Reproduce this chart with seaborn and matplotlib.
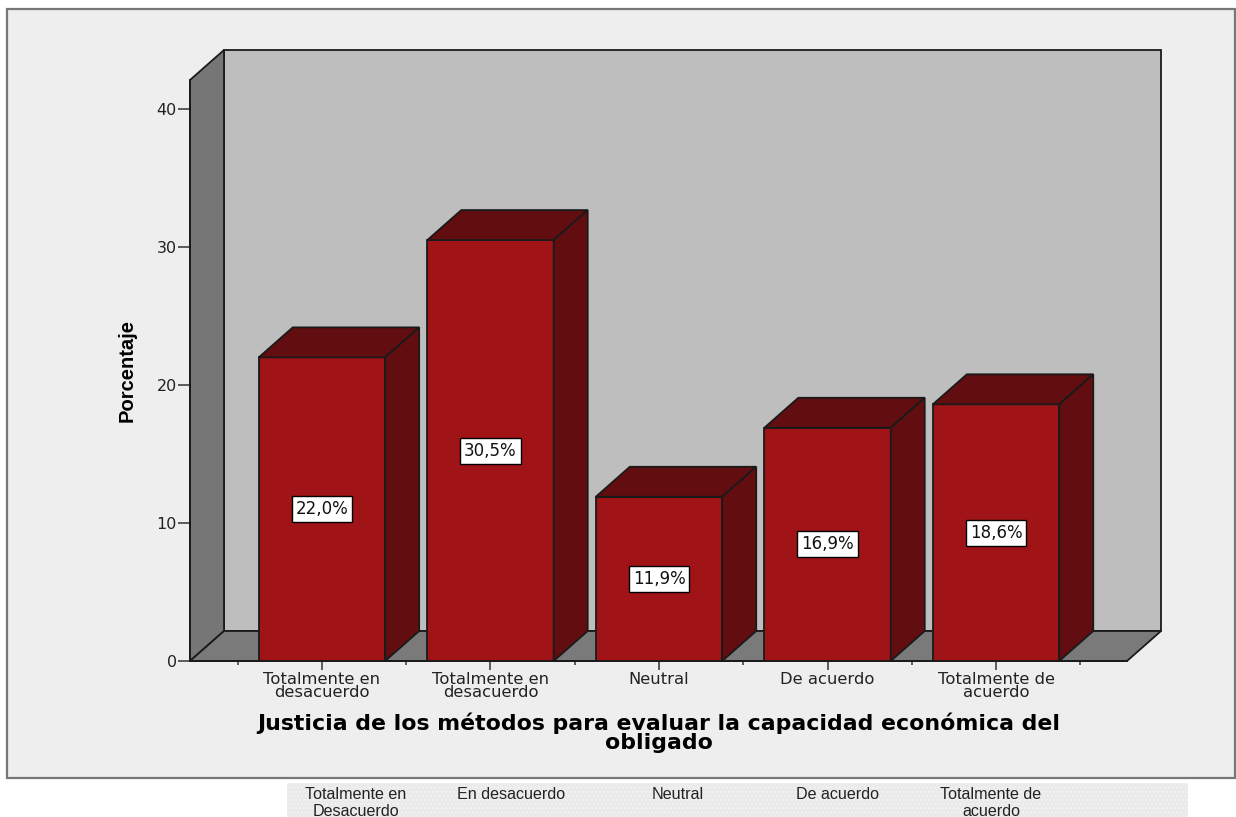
import matplotlib
matplotlib.use("Agg")
import matplotlib.pyplot as plt
from matplotlib.patches import Polygon, Rectangle
import pandas as pd
import seaborn as sns

# chart values
labels = ["Totalmente en\ndesacuerdo", "Totalmente en\ndesacuerdo", "Neutral", "De acuerdo", "Totalmente de\nacuerdo"]
values = [22.0, 30.5, 11.9, 16.9, 18.6]
y_ticks = [0, 10, 20, 30, 40]
strip_labels = ["Totalmente en\nDesacuerdo", "En desacuerdo", "Neutral", "De acuerdo", "Totalmente de\nacuerdo"]
strip_x = [356, 511, 678, 838, 991]

W, H = 1236, 817
sns.set_style("white")
plt.rcParams["font.family"] = ["DejaVu Sans"]

fig = plt.figure(figsize=[W / 100, H / 100], dpi=100, facecolor="white")

# grey panel and the strip below it
fig.add_artist(Rectangle((7 / W, 1 - 778 / H), 1228 / W, 769 / H, transform=fig.transFigure,
                         fc="#eeeeee", ec="#777777", lw=1.6, zorder=-2))
fig.add_artist(Rectangle((287 / W, 0), 901 / W, 34 / H, transform=fig.transFigure,
                         fc="#eaeaea", ec="#f3f3f3", hatch="....", lw=0, zorder=-2))
for x, t in zip(strip_x, strip_labels):
    fig.text(x / W, 1 - 787 / H, t, ha="center", va="top", fontsize=11.6, color="#222222",
             family="Liberation Sans", linespacing=1.2)

ax = fig.add_axes([190 / W, 1 - 661 / H, 937 / W, 581 / H])
ax.patch.set_alpha(0)
x0, x1 = -0.783, 4.777
y1 = 42.1
ax.set_xlim(x0, x1)
ax.set_ylim(0, y1)

# depth of the fake 3d box, in data units
dx = 34 / 168.5
dy = 30 / 13.8

edge = "#1a1a1a"
ax.add_patch(Polygon([(x0 + dx, dy), (x1 + dx, dy), (x1 + dx, y1 + dy), (x0 + dx, y1 + dy)],
                     fc="#bebebe", ec=edge, lw=1.3, clip_on=False, zorder=1))
ax.add_patch(Polygon([(x0, 0), (x0 + dx, dy), (x0 + dx, y1 + dy), (x0, y1)],
                     fc="#767676", ec=edge, lw=1.3, clip_on=False, zorder=1))
ax.add_patch(Polygon([(x0, 0), (x1, 0), (x1 + dx, dy), (x0 + dx, dy)],
                     fc="#7a7a7a", ec=edge, lw=1.3, clip_on=False, zorder=1))

df = pd.DataFrame({"pos": range(len(values)), "pct": values})
sns.barplot(data=df, x="pos", y="pct", color="#a01417", saturation=1, width=0.75,
            edgecolor=edge, linewidth=1.3, zorder=3, ax=ax)
ax.set_xlim(x0, x1)
ax.set_ylim(0, y1)

bars = [p for p in ax.patches if p.get_zorder() == 3]
for bar, v in zip(bars, values):
    l, w = bar.get_x(), bar.get_width()
    r = l + w
    ax.add_patch(Polygon([(l, v), (r, v), (r + dx, v + dy), (l + dx, v + dy)],
                         fc="#620d10", ec=edge, lw=1.3, clip_on=False, zorder=3))
    ax.add_patch(Polygon([(r, 0), (r + dx, dy), (r + dx, v + dy), (r, v)],
                         fc="#620d10", ec=edge, lw=1.3, clip_on=False, zorder=3))
    ax.text(l + w / 2, v / 2, f"{v:.1f}%".replace(".", ","), ha="center", va="center",
            fontsize=12, color="#111111", zorder=5,
            bbox=dict(fc="white", ec="black", lw=1, boxstyle="square,pad=0.24"))

sns.despine(ax=ax, top=True, right=True)
for s in ["left", "bottom"]:
    ax.spines[s].set_color(edge)
    ax.spines[s].set_linewidth(1.3)
    ax.spines[s].set_zorder(2)

ax.set_yticks(y_ticks)
ax.set_xticks(range(len(labels)))
ax.set_xticklabels(labels, linespacing=0.85)
ax.set_xticks([i - 0.5 for i in range(len(labels) + 1)], minor=True)
ax.tick_params(axis="y", left=True, length=8.6, width=1.1, color="#333333", labelsize=11.5,
               labelcolor="#222222", pad=1)
ax.tick_params(axis="x", which="major", bottom=True, length=6.5, width=1.1, color="#333333",
               labelsize=11.8, labelcolor="#222222", pad=1.5)
ax.tick_params(axis="x", which="minor", bottom=True, length=3, width=1.1, color="#333333")

ax.set_xlabel("Justicia de los métodos para evaluar la capacidad económica del\nobligado",
              fontsize=15.8, fontweight="bold", color="black", linespacing=0.95, va="top")
ax.xaxis.set_label_coords(0.5, (661 - 712) / 581)
ax.set_ylabel("Porcentaje", fontsize=14.5, fontweight="bold", color="black",
              family=["Liberation Sans Narrow", "Liberation Sans"])
ax.yaxis.set_label_coords((137 - 190) / 937, (661 - 370) / 581)

fig.savefig("out.png", dpi=100, facecolor="white")
